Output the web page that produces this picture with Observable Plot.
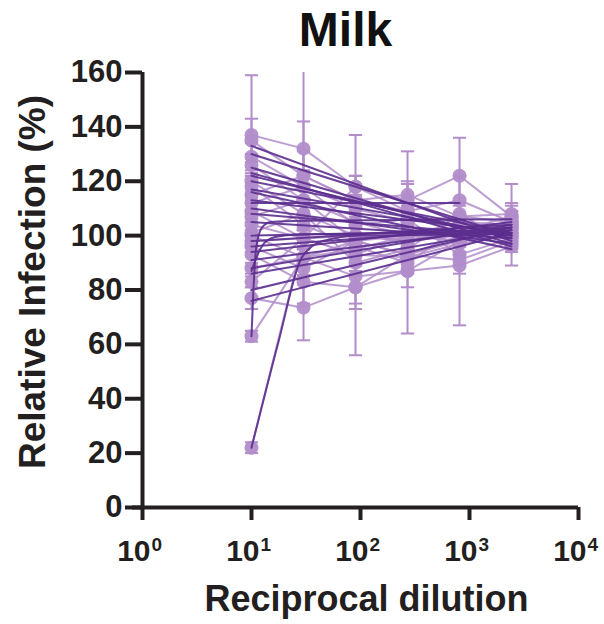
<!DOCTYPE html>
<html>
<head>
<meta charset="utf-8">
<script src="https://cdn.jsdelivr.net/npm/d3@7"></script>
<script src="https://cdn.jsdelivr.net/npm/@observablehq/plot@0.6"></script>
<style>
  html, body { margin: 0; padding: 0; background: #fff; }
  #chart svg text { font-family: Arial, "Liberation Sans", Helvetica, sans-serif; font-weight: bold; }
</style>
</head>
<body>
<div id="chart"></div>
<script>
// ---- data ----
const dilutions = [10, 30, 90, 270, 810, 2430];
const yTicks = [0, 20, 40, 60, 80, 100, 120, 140, 160];
const xTicks = [1, 10, 100, 1000, 10000];
const xExponents = ["0", "1", "2", "3", "4"];

// measured series (relative infection %, one row per sample)
const seriesValues = [
  [137, 132, 118, 113, 122, 107],
  [135, 122, 113, 109, 113, 105],
  [129, 118, 110, 105, 107, 108],
  [126, 113, 105, 100, 98, 106],
  [120, 108, 100, 98, 100, 104],
  [115, 122, 113, 115, 107, 105],
  [109, 99, 93, 100, 98, 102],
  [107, 113, 98, 93, 91, 98],
  [104, 99, 118, 109, 100, 101],
  [100, 92, 85, 87, 89, 96],
  [98, 99, 93, 92, 97, 100],
  [96, 88, 98, 100, 105, 104],
  [93, 83, 81, 87, 98, 100],
  [88, 92, 95, 100, 103, 103],
  [83, 99, 100, 98, 102, 107],
  [77, 73.5, 81, 93, 98, 100],
  [63, 92, 98, 93, 100, 103],
  [22, 99, 100, 98, 102, 105],
  [118, 104, 96, 90, 103, 101],
  [112, 118, 104, 106, 93, 99],
  [101, 108, 90, 95, 108, 97]
];
// standard deviations for each point
const seriesErrors = [
  [22, 30, 19, 18, 14, 12],
  [8, 20, 9, 10, 9, 6],
  [5, 6, 5, 6, 5, 4],
  [4, 5, 4, 4, 4, 3],
  [3, 4, 3, 3, 3, 2],
  [6, 9, 6, 5, 5, 4],
  [4, 4, 4, 4, 4, 2],
  [5, 5, 5, 5, 5, 3],
  [4, 4, 4, 4, 4, 2],
  [6, 10, 29, 23, 22, 7],
  [2, 3, 3, 3, 3, 2],
  [2, 3, 3, 3, 3, 2],
  [4, 8, 8, 6, 5, 3],
  [2, 3, 3, 3, 3, 2],
  [2, 3, 3, 3, 3, 2],
  [4, 12, 6, 5, 4, 3],
  [2, 3, 3, 3, 3, 2],
  [2, 3, 3, 3, 3, 2],
  [4, 5, 4, 4, 4, 3],
  [4, 5, 4, 4, 4, 3],
  [4, 5, 4, 4, 4, 3]
];

// fitted curves (dark): start value at 1:10, end value, end dilution
const fitStart = [133, 130, 125, 123, 122, 120, 117, 116, 113, 112, 110, 108, 105, 100, 98, 96, 94, 91, 88, 86, 80, 76];
const fitEnd   = [98, 100, 97, 96, 99, 101, 100, 95, 101, 112, 97, 100, 99, 102, 104, 103, 105, 103, 104, 102, 103, 101];
const fitEndX  = [2430, 2430, 2430, 2430, 2430, 2430, 2430, 2430, 2430, 810, 2430, 2430, 2430, 2430, 2430, 2430, 2430, 2430, 2430, 2430, 2430, 2430];
// sigmoidal fits with a steep rise near the lowest dilution
const curveA_x = [10, 17.7, 29, 45, 100, 2430];
const curveA_y = [22, 61, 92, 98, 100, 100.5];
const curveB_x = [10, 11, 12.5, 15, 30, 2430];
const curveB_y = [63, 95, 103, 105, 105.5, 106];
const curveC_x = [10, 12, 15, 20, 30, 2430];
const curveC_y = [87, 95, 99, 100, 100.5, 101];

// ---- build tables ----
const points = [];
seriesValues.forEach((row, s) => row.forEach((v, i) =>
  points.push({series: s, x: dilutions[i], y: v, e: seriesErrors[s][i]})));

const fits = [];
fitStart.forEach((v, s) => {
  fits.push({fit: "f" + s, x: 10, y: v});
  fits.push({fit: "f" + s, x: fitEndX[s], y: fitEnd[s]});
});
[[curveA_x, curveA_y], [curveB_x, curveB_y], [curveC_x, curveC_y]].forEach(([xs, ys], k) =>
  xs.forEach((x, i) => fits.push({fit: "c" + k, x, y: ys[i]})));

const light = "#b28dca";
const dark = "#5b2d8e";
const ink = "#231f20";
const capF = 1.15;

const chart = Plot.plot({
  width: 604,
  height: 624,
  marginLeft: 142,
  marginRight: 26,
  marginTop: 72,
  marginBottom: 117,
  x: {type: "log", domain: [1, 10000]},
  y: {domain: [0, 160]},
  marks: [
    // error bars
    Plot.link(points, {x1: "x", x2: "x", y1: d => d.y - d.e, y2: d => d.y + d.e, stroke: light, strokeWidth: 2, clip: true}),
    Plot.link(points, {x1: d => d.x / capF, x2: d => d.x * capF, y1: d => d.y + d.e, y2: d => d.y + d.e, stroke: light, strokeWidth: 2, clip: true}),
    Plot.link(points, {x1: d => d.x / capF, x2: d => d.x * capF, y1: d => d.y - d.e, y2: d => d.y - d.e, stroke: light, strokeWidth: 2}),
    // data lines
    Plot.line(points, {x: "x", y: "y", z: "series", stroke: light, strokeWidth: 2, strokeOpacity: 0.85}),
    Plot.dot(points, {x: "x", y: "y", r: 7, fill: light, fillOpacity: 0.95}),
    // fits
    Plot.line(fits, {x: "x", y: "y", z: "fit", stroke: dark, strokeWidth: 2, strokeOpacity: 0.9, curve: "monotone-x"}),
    // axes
    Plot.axisY({ticks: yTicks, tickSize: 17, tickPadding: 3, fontSize: 31, strokeWidth: 4, label: null, color: ink}),
    Plot.axisX({ticks: xTicks, tickSize: 13, tickFormat: () => "", strokeWidth: 4, label: null, color: ink}),
    Plot.ruleX([1], {y1: 0, y2: 160, stroke: ink, strokeWidth: 4}),
    Plot.ruleY([0], {x1: 1, x2: 10000, stroke: ink, strokeWidth: 4, insetLeft: -10}),
    // x tick labels 10^n
    Plot.text(xTicks, {x: d => d, y: 0, text: () => "10", textAnchor: "end", dx: 8, dy: 44, fontSize: 30, fill: ink}),
    Plot.text(xTicks, {x: d => d, y: 0, text: (d, i) => xExponents[i], textAnchor: "start", dx: 9, dy: 37, fontSize: 19, fill: ink}),
    // titles
    Plot.text(["Milk"], {frameAnchor: "top", text: d => d, textAnchor: "middle", lineAnchor: "middle", dx: -15, dy: -42, fontSize: 48, fill: "#111"}),
    Plot.text(["Relative Infection (%)"], {frameAnchor: "left", text: d => d, textAnchor: "middle", lineAnchor: "middle", rotate: -90, dx: -109, dy: -8, fontSize: 37, fill: ink}),
    Plot.text(["Reciprocal dilution"], {frameAnchor: "bottom", text: d => d, textAnchor: "middle", lineAnchor: "middle", dx: 6, dy: 92, fontSize: 36, fill: ink})
  ]
});
document.getElementById("chart").appendChild(chart);
</script>
</body>
</html>
